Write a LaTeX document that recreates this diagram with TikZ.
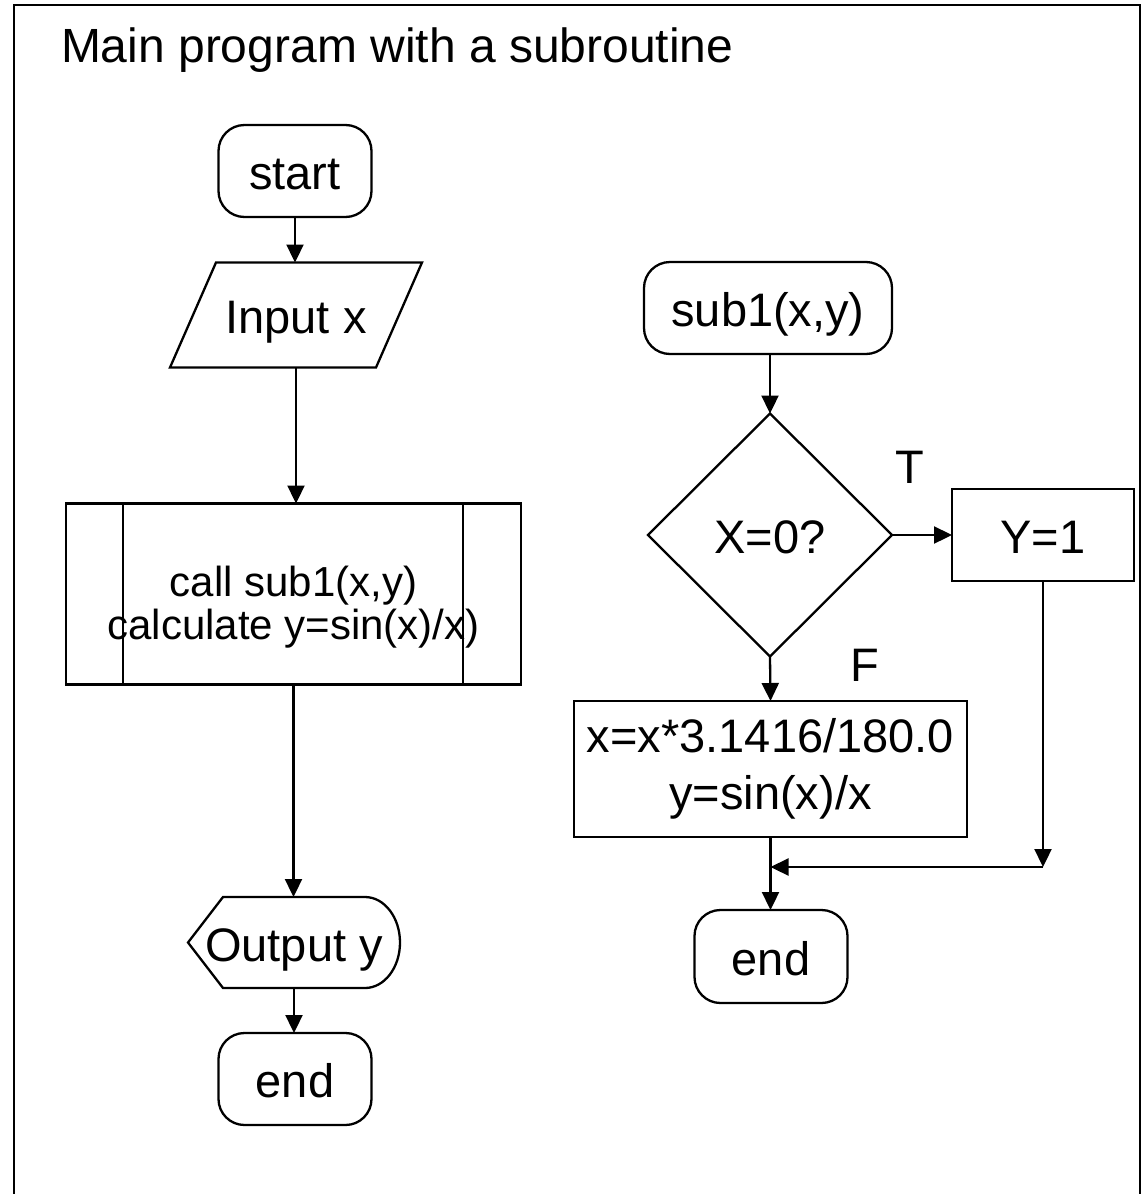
\documentclass[tikz,border=0pt]{standalone}
\usepackage{fontspec}
\setmainfont{Liberation Sans}
\usetikzlibrary{shapes.geometric,arrows.meta}

\begin{document}
\begin{tikzpicture}[x=1pt,y=-1pt,line width=2.3pt,
  every node/.style={inner sep=0pt,outer sep=0pt,font=\fontsize{47}{57}\selectfont},
  txt/.style={text height=37pt,text depth=0pt},
  term/.style={draw,txt,rounded corners=26pt,minimum width=153pt,minimum height=92pt},
  proc/.style={draw,txt},
  decision/.style={draw,txt,diamond,minimum width=244pt,minimum height=243pt},
  tag/.style={font=\fontsize{47}{57}\selectfont},
  flow/.style={-{Triangle[length=18pt,width=17pt]}}]
\useasboundingbox (0,0) rectangle (1145,1194);

% frame and title
\draw (14,1194) -- (14,5) -- (1140,5) -- (1140,1194);
\node[anchor=base west,font=\fontsize{48}{58}\selectfont] (title) at (61,62)
  {Main program with a subroutine};

% main program
\node[term] (start) at (295,171) {start};
\node[txt,minimum width=206pt,minimum height=105pt] (input) at (296,315) {Input x};
\draw ([xshift=23pt]input.north west) -- ([xshift=23pt]input.north east)
  -- ([xshift=-23pt]input.south east) -- ([xshift=-23pt]input.south west) -- cycle;
\node[draw,minimum width=455pt,minimum height=181pt] (call) at (293.5,594) {};
\node[align=center,font=\fontsize{42}{43}\selectfont] (calltext) at (293.5,607)
  {call sub1(x,y)\\calculate y=sin(x)/x)};
\draw ([xshift=57pt]call.north west) -- ([xshift=57pt]call.south west);
\draw ([xshift=-58pt]call.north east) -- ([xshift=-58pt]call.south east);
\node[txt,minimum width=212pt,minimum height=91pt] (output) at (294,942.5) {Output y};
\draw (output.west) -- ([xshift=35pt]output.north west)
  -- ([xshift=-35pt]output.north east)
  arc[start angle=90,end angle=-90,x radius=35pt,y radius=45.5pt]
  -- ([xshift=35pt]output.south west) -- cycle;
\node[term] (endL) at (295,1079) {end};

\draw[flow] (start.south) -- (start.south |- input.north);
\draw[flow] (input.south) -- (input.south |- call.north);
\draw[flow] (call.south) -- (call.south |- output.north);
\draw[flow] (output.south) -- (output.south |- endL.north);

% subroutine
\node[term,minimum width=248pt] (sub1) at (768,308) {sub1(x,y)};
\node[decision] (test) at (770,535) {X=0?};
\node[proc,minimum width=182pt,minimum height=92pt] (yone) at (1043,535) {Y=1};
\node[draw,minimum width=393pt,minimum height=136pt,align=center] (conv)
  at (770.5,769) {x=x*3.1416/180.0\\y=sin(x)/x};
\node[term,minimum height=93pt] (endR) at (771,956.5) {end};
\node[tag] (ttag) at (910,467) {T};
\node[tag] (ftag) at (865,665) {F};

\coordinate (mergeR) at (1043,867);
\coordinate (mergeL) at (conv.south |- mergeR);

\draw[flow] (test.north |- sub1.south) -- (test.north);
\draw[flow] (test.east) -- (yone.west);
\draw[flow] (test.south) -- (conv.north);
\draw[flow] (conv.south) -- (conv.south |- endR.north);
\draw[flow] (yone.south) -- (mergeR);
\draw[flow] (mergeR) -- (mergeL);

\end{tikzpicture}
\end{document}
